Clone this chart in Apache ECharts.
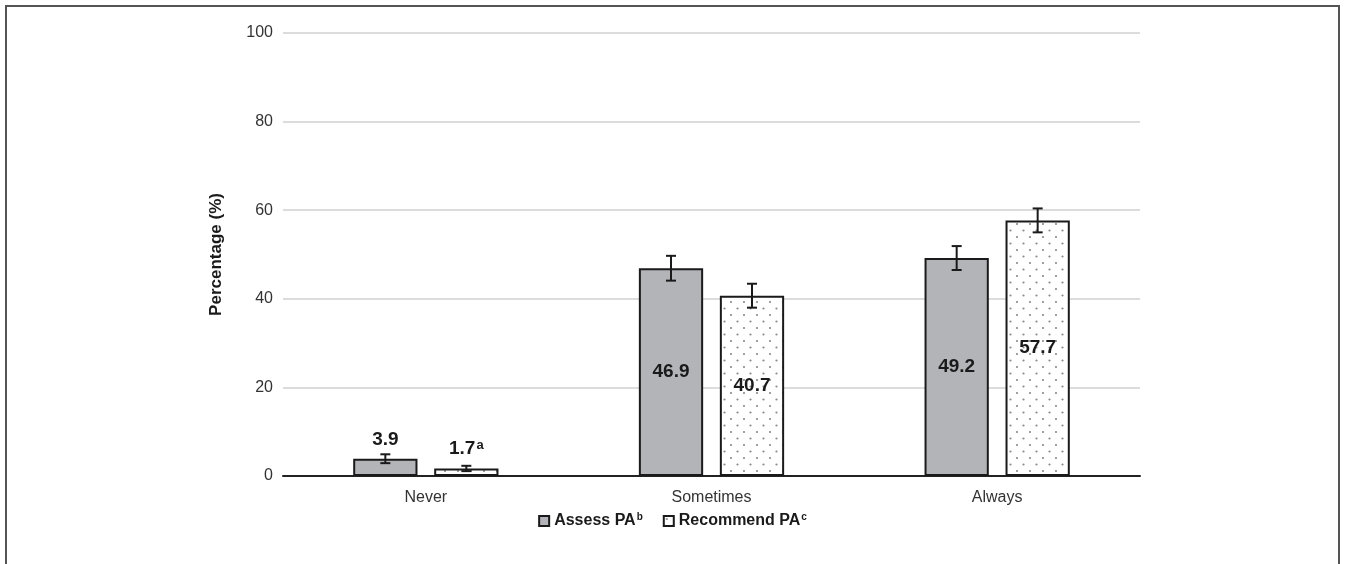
<!DOCTYPE html>
<html>
<head>
<meta charset="utf-8">
<script src="https://cdn.jsdelivr.net/npm/echarts@6/dist/echarts.min.js"></script>
<style>html,body{margin:0;padding:0;background:#fff}#c{width:1345px;height:564px}</style>
</head>
<body>
<div id="c"></div>
<script>
var categories = ['Never', 'Sometimes', 'Always'];
var assessValues = [3.9, 46.9, 49.2];
var recommendValues = [1.7, 40.7, 57.7];
var assessErrors = [1.0, 2.8, 2.7];
var recommendErrors = [0.6, 2.7, 2.7];
var assessNotes = ['', '', ''];
var recommendNotes = ['a', '', ''];
var seriesNames = ['Assess PA', 'Recommend PA'];
var seriesSup = ['b', 'c'];
var yTicks = [0, 20, 40, 60, 80, 100];

function makeDots() {
  var c = document.createElement('canvas');
  c.width = 13; c.height = 13;
  var ctx = c.getContext('2d');
  ctx.fillStyle = '#ffffff';
  ctx.fillRect(0, 0, 13, 13);
  ctx.fillStyle = '#8a8a8a';
  ctx.beginPath(); ctx.arc(3, 3, 1.1, 0, Math.PI * 2); ctx.fill();
  ctx.beginPath(); ctx.arc(9.5, 9.5, 1.1, 0, Math.PI * 2); ctx.fill();
  return c;
}

var chart = echarts.init(document.getElementById('c'), null, {renderer: 'canvas'});

function barData(vals, notes) {
  return vals.map(function (v, i) {
    return {
      value: v,
      note: notes[i],
      label: v < 10 ? {position: 'top', distance: 9} : {position: 'inside'}
    };
  });
}

function labelFmt(p) {
  var s = '{v|' + p.value.toFixed(1) + '}';
  if (p.data.note) s += '{s|' + p.data.note + '}';
  return s;
}

var labelRich = {
  v: {fontSize: 19, fontWeight: 'bold', color: '#1a1a1a', fontFamily: 'Liberation Sans, Arial'},
  s: {fontSize: 13, fontWeight: 'bold', color: '#1a1a1a', verticalAlign: 'top', padding: [0, 0, 8, 1], fontFamily: 'Liberation Sans, Arial'}
};

function errSeries(idx, vals, errs) {
  return {
    type: 'custom',
    silent: true,
    z: 5,
    data: vals.map(function (v, i) { return [i, v - errs[i], v + errs[i]]; }),
    renderItem: function (params, api) {
      var lo = api.coord([api.value(0), api.value(1)]);
      var hi = api.coord([api.value(0), api.value(2)]);
      var bw = api.size([1, 0])[0];
      var barW = bw * 0.225;
      var gap = barW * 0.26;
      var off = (idx === 0 ? -1 : 1) * (barW / 2 + gap / 2);
      var x = lo[0] + off;
      var cap = 5;
      var st = {stroke: '#1a1a1a', lineWidth: 2};
      return {
        type: 'group',
        children: [
          {type: 'line', shape: {x1: x, y1: lo[1], x2: x, y2: hi[1]}, style: st},
          {type: 'line', shape: {x1: x - cap, y1: lo[1], x2: x + cap, y2: lo[1]}, style: st},
          {type: 'line', shape: {x1: x - cap, y1: hi[1], x2: x + cap, y2: hi[1]}, style: st}
        ]
      };
    }
  };
}

var option = {
  animation: false,
  backgroundColor: '#ffffff',
  textStyle: {fontFamily: 'Liberation Sans, Arial, sans-serif'},
  graphic: [{
    type: 'rect',
    shape: {x: 6, y: 6, width: 1333, height: 620},
    style: {fill: 'none', stroke: '#555555', lineWidth: 2},
    silent: true,
    z: -10
  }],
  grid: {left: 283, right: 205, top: 33, bottom: 88},
  legend: {
    bottom: 30,
    left: 'center',
    icon: 'rect',
    itemWidth: 10,
    itemHeight: 10,
    itemGap: 20,
    data: seriesNames,
    textStyle: {
      rich: {
        n: {fontSize: 16, fontWeight: 'bold', color: '#1a1a1a'},
        s: {fontSize: 10, fontWeight: 'bold', color: '#1a1a1a', verticalAlign: 'top', padding: [0, 0, 7, 1]}
      }
    },
    formatter: function (name) {
      var i = seriesNames.indexOf(name);
      return '{n|' + name + '}{s|' + seriesSup[i] + '}';
    }
  },
  xAxis: {
    type: 'category',
    data: categories,
    axisTick: {show: false},
    axisLine: {lineStyle: {color: '#222', width: 2}},
    axisLabel: {fontSize: 16, color: '#333', margin: 14}
  },
  yAxis: {
    type: 'value',
    min: yTicks[0],
    max: yTicks[yTicks.length - 1],
    interval: 20,
    name: 'Percentage (%)',
    nameLocation: 'middle',
    nameGap: 58,
    nameMoveOverlap: false,
    nameTextStyle: {fontSize: 17, fontWeight: 'bold', color: '#1a1a1a'},
    axisLabel: {fontSize: 16, color: '#333', margin: 10},
    splitLine: {lineStyle: {color: '#dcdcdc', width: 2}}
  },
  series: [
    {
      name: seriesNames[0],
      type: 'bar',
      barWidth: '22.5%',
      barGap: '26%',
      data: barData(assessValues, assessNotes),
      itemStyle: {color: '#b3b4b8', borderColor: '#1a1a1a', borderWidth: 2},
      label: {show: true, formatter: labelFmt, rich: labelRich}
    },
    {
      name: seriesNames[1],
      type: 'bar',
      barWidth: '22.5%',
      data: barData(recommendValues, recommendNotes),
      itemStyle: {color: {image: makeDots(), repeat: 'repeat'}, borderColor: '#1a1a1a', borderWidth: 2},
      label: {show: true, formatter: labelFmt, rich: labelRich}
    },
    errSeries(0, assessValues, assessErrors),
    errSeries(1, recommendValues, recommendErrors)
  ]
};
chart.setOption(option);
</script>
</body>
</html>
